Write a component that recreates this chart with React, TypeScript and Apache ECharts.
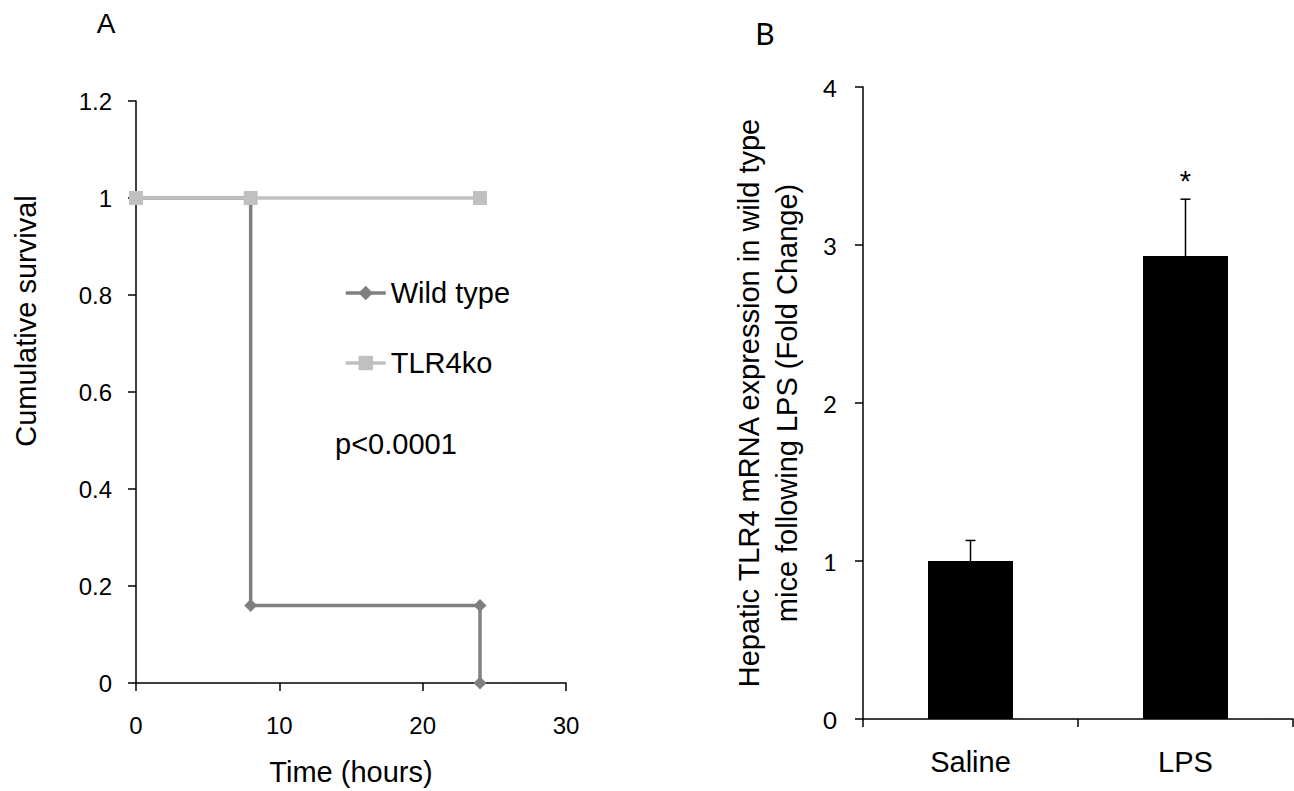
import React, { useEffect, useRef } from "react";
import * as echarts from "echarts";

// Panel A: survival curves
const timeTicks = [0, 10, 20, 30];
const survivalTicks = [0, 0.2, 0.4, 0.6, 0.8, 1, 1.2];
const wildTypeTimes = [0, 8, 8, 24, 24];
const wildTypeSurvival = [1, 1, 0.16, 0.16, 0];
const tlr4koTimes = [0, 8, 24];
const tlr4koSurvival = [1, 1, 1];
const seriesNames = ["Wild type", "TLR4ko"];
const pValueText = "p<0.0001";

// Panel B: hepatic TLR4 mRNA
const categories = ["Saline", "LPS"];
const foldChange = [1.0, 2.93];
const foldChangeError = [0.13, 0.36];
const significance = ["", "*"];
const foldTicks = [0, 1, 2, 3, 4];

const ARIAL = "'Liberation Sans', Arial, sans-serif";
const CAL = "Lato, 'Open Sans', sans-serif";

export default function App() {
  const ref = useRef<HTMLDivElement>(null);
  useEffect(() => {
    if (!ref.current) return;
    const chart = echarts.init(ref.current, undefined, { renderer: "svg" });
    const axisLine = { show: true, lineStyle: { color: "#000", width: 1.5 } };
    const axisTick = { show: true, length: 8, lineStyle: { color: "#000", width: 1.5 } };
    const option: any = {
      animation: false,
      backgroundColor: "#fff",
      grid: [
        { left: 136, top: 101, width: 430, height: 590 },
        { left: 863, top: 87, width: 430, height: 632 },
      ],
      legend: {
        data: seriesNames,
        orient: "vertical",
        left: 344,
        top: 278,
        padding: 0,
        itemWidth: 40,
        itemHeight: 18,
        itemGap: 40,
        itemTextGap: 4,
        lineStyle: { width: 3.5 },
        textStyle: { fontFamily: ARIAL, fontSize: 29, color: "#000", lineHeight: 30 },
      },
      xAxis: [
        {
          gridIndex: 0,
          type: "value",
          min: timeTicks[0],
          max: timeTicks[timeTicks.length - 1],
          interval: timeTicks[1] - timeTicks[0],
          axisLine,
          axisTick,
          splitLine: { show: false },
          axisLabel: { fontFamily: ARIAL, fontSize: 24, color: "#000", margin: 30 },
          name: "Time (hours)",
          nameLocation: "middle",
          nameGap: 74,
          nameTextStyle: { fontFamily: ARIAL, fontSize: 29, color: "#000" },
        },
        {
          gridIndex: 1,
          type: "category",
          data: categories,
          axisLine,
          axisTick,
          axisLabel: { fontFamily: ARIAL, fontSize: 29, color: "#000", margin: 28 },
        },
      ],
      yAxis: [
        {
          gridIndex: 0,
          type: "value",
          min: survivalTicks[0],
          max: survivalTicks[survivalTicks.length - 1],
          interval: 0.2,
          axisLine,
          axisTick,
          splitLine: { show: false },
          axisLabel: {
            fontFamily: ARIAL,
            fontSize: 24,
            color: "#000",
            margin: 24,
            formatter: (v: number) => String(+v.toFixed(1)),
          },
          name: "Cumulative survival",
          nameLocation: "middle",
          nameGap: 96,
          nameTextStyle: { fontFamily: ARIAL, fontSize: 29, color: "#000", padding: [0, 0, 0, 142] },
        },
        {
          gridIndex: 1,
          type: "value",
          min: foldTicks[0],
          max: foldTicks[foldTicks.length - 1],
          interval: 1,
          axisLine,
          axisTick,
          splitLine: { show: false },
          axisLabel: { fontFamily: CAL, fontSize: 24, color: "#000", margin: 26 },
          name: "Hepatic TLR4 mRNA expression in wild type\nmice following LPS (Fold Change)",
          nameLocation: "middle",
          nameGap: 57,
          nameTextStyle: { fontFamily: ARIAL, fontSize: 29, color: "#000", lineHeight: 38, align: "center" },
        },
      ],
      series: [
        {
          name: seriesNames[0],
          type: "line",
          xAxisIndex: 0,
          yAxisIndex: 0,
          data: wildTypeTimes.map((t, i) => [t, wildTypeSurvival[i]]),
          symbol: "diamond",
          symbolSize: 13,
          showAllSymbol: true,
          clip: false,
          z: 2,
          itemStyle: { color: "#7f7f7f" },
          lineStyle: { color: "#7f7f7f", width: 3.5 },
        },
        {
          name: seriesNames[1],
          type: "line",
          xAxisIndex: 0,
          yAxisIndex: 0,
          data: tlr4koTimes.map((t, i) => [t, tlr4koSurvival[i]]),
          symbol: "rect",
          symbolSize: 14,
          showAllSymbol: true,
          clip: false,
          z: 3,
          itemStyle: { color: "#c0c0c0" },
          lineStyle: { color: "#c0c0c0", width: 3.5 },
        },
        {
          type: "bar",
          xAxisIndex: 1,
          yAxisIndex: 1,
          data: foldChange,
          barWidth: 85,
          itemStyle: { color: "#000" },
        },
        {
          type: "custom",
          xAxisIndex: 1,
          yAxisIndex: 1,
          data: foldChange.map((v, i) => [i, v, foldChangeError[i]]),
          z: 5,
          clip: false,
          renderItem: (params: any, api: any) => {
            const i = api.value(0);
            const v = api.value(1);
            const e = api.value(2);
            const base = api.coord([i, v]);
            const top = api.coord([i, v + e]);
            const style = { stroke: "#000", lineWidth: 1.5 };
            const children: any[] = [
              { type: "line", shape: { x1: base[0], y1: base[1], x2: top[0], y2: top[1] }, style },
              { type: "line", shape: { x1: top[0] - 5, y1: top[1], x2: top[0] + 5, y2: top[1] }, style },
            ];
            const s = significance[params.dataIndex];
            if (s) {
              children.push({
                type: "text",
                style: {
                  text: s,
                  x: top[0],
                  y: top[1] - 4,
                  align: "center",
                  verticalAlign: "bottom",
                  font: `29px ${ARIAL}`,
                  fill: "#000",
                },
              });
            }
            return { type: "group", children };
          },
        },
      ],
      graphic: [
        {
          type: "text",
          left: 335,
          top: 429,
          style: { text: pValueText, font: `29px ${ARIAL}`, fill: "#000" },
        },
        {
          type: "text",
          x: 106,
          y: 23,
          style: { text: "A", font: `28px ${ARIAL}`, fill: "#000", align: "center", verticalAlign: "middle" },
        },
        {
          type: "text",
          x: 765,
          y: 33,
          style: { text: "B", font: `30px ${CAL}`, fill: "#000", align: "center", verticalAlign: "middle" },
        },
      ],
    };
    chart.setOption(option);
    return () => chart.dispose();
  }, []);
  return (
    <div
      ref={ref}
      style={{ position: "fixed", left: 0, top: 0, width: 1294, height: 791, background: "#fff" }}
    />
  );
}
